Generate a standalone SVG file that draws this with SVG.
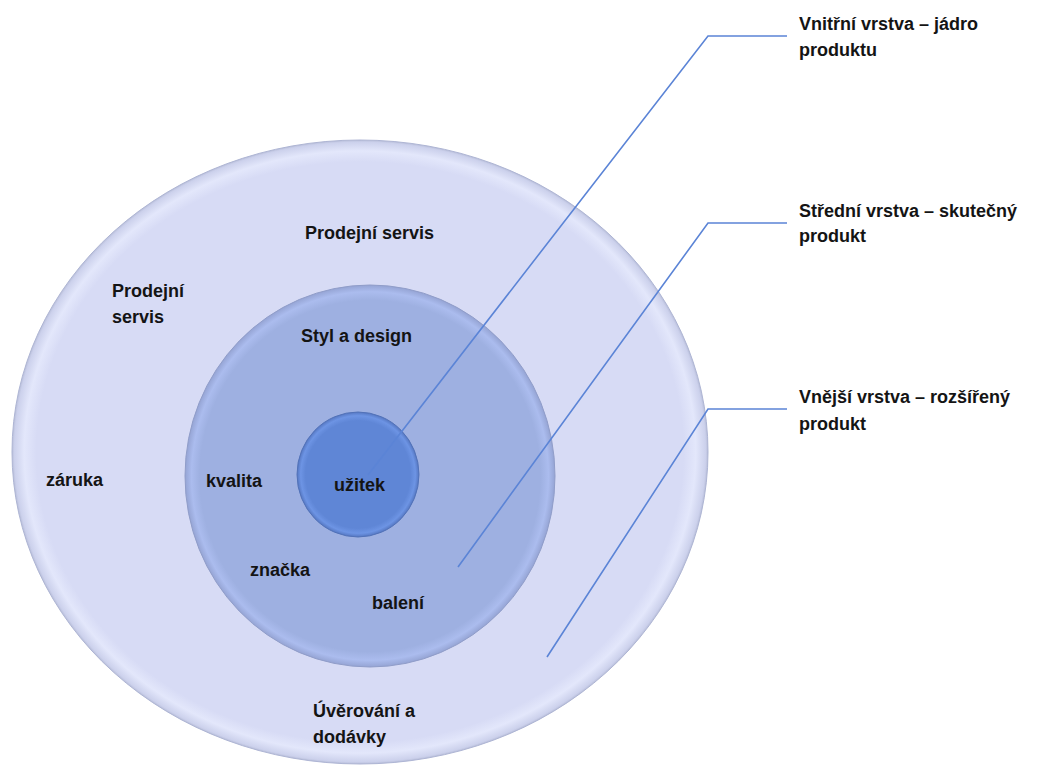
<svg xmlns="http://www.w3.org/2000/svg" width="1049" height="773" viewBox="0 0 1049 773">
<style>
.t{font-family:"Liberation Sans",Arial,sans-serif;font-weight:bold;font-size:18px;fill:#141414}
.c{fill:none;stroke:#5b84d6;stroke-width:1.6}
</style>
<defs>
<radialGradient id="gOuter" cx="0.5" cy="0.5" r="0.5">
<stop offset="0" stop-color="#d7dbf5"/>
<stop offset="0.93" stop-color="#d7dbf5"/>
<stop offset="0.965" stop-color="#e3e7fb"/>
<stop offset="0.993" stop-color="#ccd1ec"/>
<stop offset="1" stop-color="#b8bed9"/>
</radialGradient>
<radialGradient id="gMid" cx="0.5" cy="0.5" r="0.5">
<stop offset="0" stop-color="#9eb0e1"/>
<stop offset="0.92" stop-color="#9eb0e1"/>
<stop offset="0.965" stop-color="#abbcee"/>
<stop offset="1" stop-color="#95a4d4"/>
</radialGradient>
<radialGradient id="gIn" cx="0.5" cy="0.5" r="0.5">
<stop offset="0" stop-color="#5f86d6"/>
<stop offset="0.86" stop-color="#5f86d6"/>
<stop offset="0.94" stop-color="#6d94e4"/>
<stop offset="1" stop-color="#5577c2"/>
</radialGradient>
</defs>
<rect width="1049" height="773" fill="#ffffff"/>
<g id="outer">
<ellipse cx="360" cy="452" rx="348" ry="312" fill="url(#gOuter)" stroke="#aeb5d4" stroke-width="1"/>
</g>
<g id="middle">
<ellipse cx="370" cy="476" rx="185" ry="191" fill="url(#gMid)" stroke="#909dc9" stroke-width="1"/>
</g>
<g id="inner">
<ellipse cx="358" cy="474.5" rx="61" ry="62.5" fill="url(#gIn)" stroke="#5272b8" stroke-width="1"/>
</g>
<g id="connectors">
<polyline class="c" points="787,36 708,36 368,475"/>
<polyline class="c" points="787,223 708,223 458,567"/>
<polyline class="c" points="787,409 708,409 547,657"/>
</g>
<g id="labels-outer">
<text class="t" x="305" y="239">Prodejní servis</text>
<text class="t" x="112" y="297">Prodejní</text>
<text class="t" x="112" y="323">servis</text>
<text class="t" x="46" y="486">záruka</text>
<text class="t" x="313" y="717">Úvěrování a</text>
<text class="t" x="313" y="743">dodávky</text>
</g>
<g id="labels-middle">
<text class="t" x="301" y="342">Styl a design</text>
<text class="t" x="206" y="487">kvalita</text>
<text class="t" x="250" y="576">značka</text>
<text class="t" x="372" y="609">balení</text>
</g>
<g id="labels-inner">
<text class="t" x="334" y="491">užitek</text>
</g>
<g id="legend">
<text class="t" x="799" y="30">Vnitřní vrstva – jádro</text>
<text class="t" x="799" y="56">produktu</text>
<text class="t" x="799" y="217">Střední vrstva – skutečný</text>
<text class="t" x="799" y="242">produkt</text>
<text class="t" x="799" y="403">Vnější vrstva – rozšířený</text>
<text class="t" x="799" y="430">produkt</text>
</g>
</svg>
